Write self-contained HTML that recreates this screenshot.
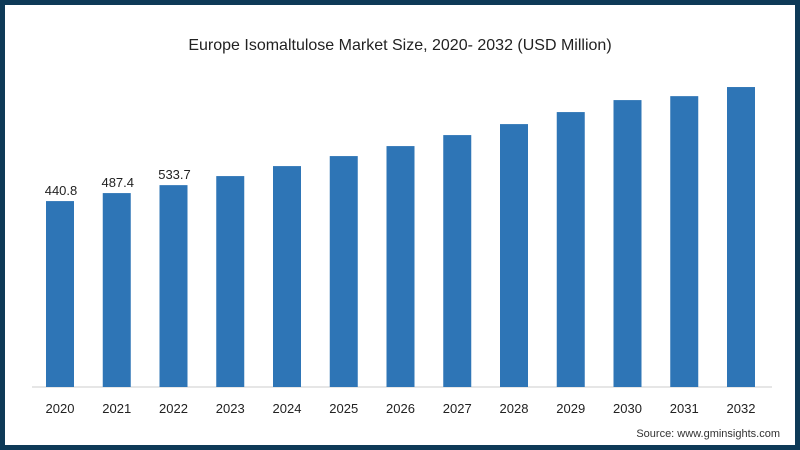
<!DOCTYPE html>
<html><head><meta charset="utf-8"><style>
body{margin:0;width:800px;height:450px;overflow:hidden;background:#fff;font-family:"Liberation Sans",sans-serif}
#frame{position:absolute;left:0;top:0;width:790px;height:440px;border:5px solid #0e3a57;background:#fff}
</style></head><body>
<div id="frame"></div>
<svg id="c" width="800" height="450" style="position:absolute;left:0;top:0">
<text x="400" y="50" text-anchor="middle" font-size="16" fill="#222">Europe Isomaltulose Market Size, 2020- 2032 (USD Million)</text>
<line x1="32" y1="387" x2="772" y2="387" stroke="#ccc" stroke-width="1"/>
<text x="780" y="437" text-anchor="end" font-size="11" fill="#333">Source: www.gminsights.com</text>
</svg>
<script>
const categories=["2020","2021","2022","2023","2024","2025","2026","2027","2028","2029","2030","2031","2032"];
const values=[440.8,487.4,533.7,586.4,644.6,702.9,761.1,825.2,889.2,959.2,1029,1052,1105];
const shownLabels=["440.8","487.4","533.7","","","","","","","","","",""];
const svg=document.getElementById('c');const NS='http://www.w3.org/2000/svg';
const base=387,vmin=-642,k=0.1717;
function y(v){return base-(v-vmin)*k;}
function x(i){return 60+i*56.75;}
categories.forEach((c,i)=>{
 const r=document.createElementNS(NS,'rect');
 r.setAttribute('x',x(i)-14);r.setAttribute('width',28);
 r.setAttribute('y',y(values[i]));r.setAttribute('height',base-y(values[i]));
 r.setAttribute('fill','#2e75b6');
 
 
 svg.appendChild(r);
 const t=document.createElementNS(NS,'text');
 t.setAttribute('x',x(i));t.setAttribute('y',413);t.setAttribute('text-anchor','middle');
 t.setAttribute('font-size','13');t.setAttribute('fill','#222');t.textContent=c;
 
 
 svg.appendChild(t);
 if(shownLabels[i]){
  const l=document.createElementNS(NS,'text');
  l.setAttribute('x',x(i)+1);l.setAttribute('y',y(values[i])-6);l.setAttribute('text-anchor','middle');
  l.setAttribute('font-size','13');l.setAttribute('fill','#222');l.textContent=shownLabels[i];
  
  
  svg.appendChild(l);
 }
});
</script>
</body></html>
